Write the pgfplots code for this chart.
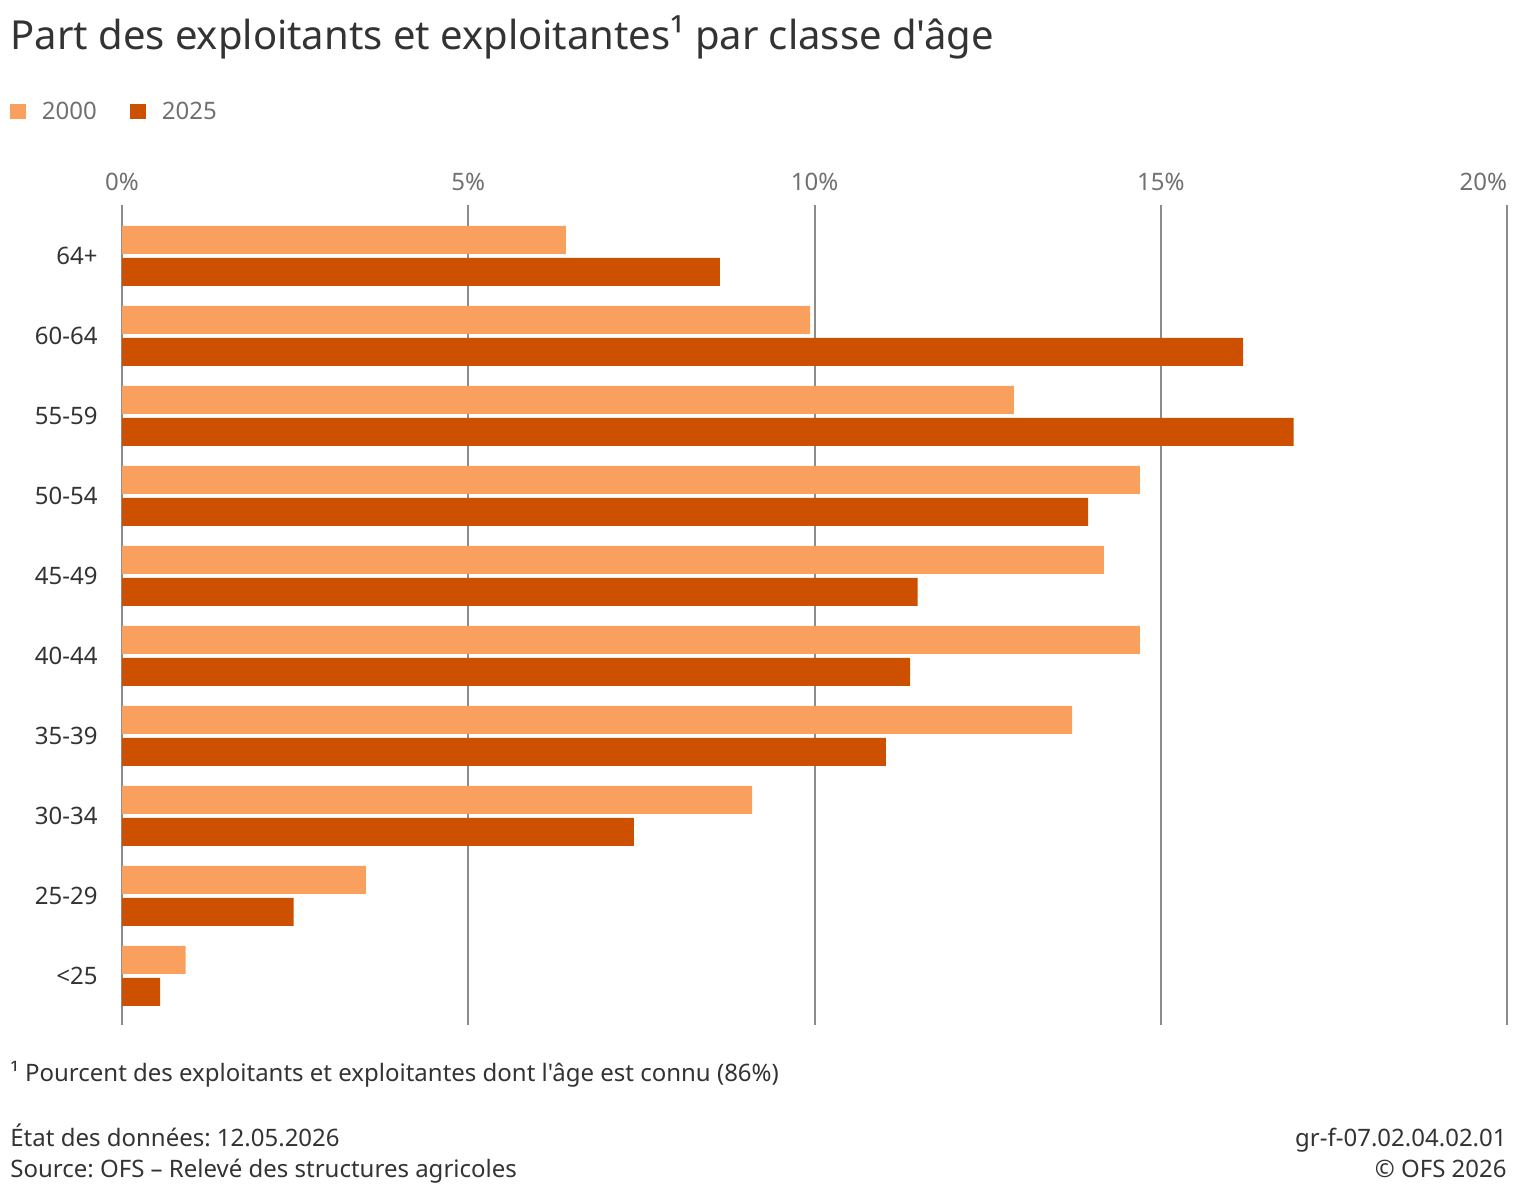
\documentclass[border=0pt]{standalone}
\usepackage{pgfplots}
\pgfplotsset{compat=1.18}
\usepackage{fontspec}
\setmainfont{Noto Sans}[Ligatures=TeXOff]
\definecolor{c2000}{HTML}{FAA05E}
\definecolor{c2025}{HTML}{CC5000}
\definecolor{gridc}{HTML}{8C8C8C}
\definecolor{tickc}{HTML}{707070}
\definecolor{textc}{HTML}{333333}
\frenchspacing
\begin{document}
\begin{tikzpicture}
\useasboundingbox (0,0) rectangle (760pt,599pt);
\begin{axis}[
  at={(61pt,86.5pt)}, anchor=south west,
  scale only axis, width=692.5pt, height=410pt,
  xmin=0, xmax=20, ymin=-0.6125, ymax=9.6375,
  xbar, bar width=14pt,
  xtick={0,5,10,15,20}, xticklabels={0\%,5\%,10\%,15\%,\makebox[0pt][r]{20\%}},
  xticklabel pos=upper,
  ytick={0,1,2,3,4,5,6,7,8,9},
  yticklabels={<25,25-29,30-34,35-39,40-44,45-49,50-54,55-59,60-64,64+},
  xmajorgrids, major grid style={gridc, line width=1pt},
  axis line style={draw=none}, major tick length=0pt,
  x tick label style={font=\fontsize{12}{14}\selectfont, text=tickc, inner sep=0pt, anchor=south, yshift=7pt},
  y tick label style={font=\fontsize{12}{14}\selectfont, text=textc, inner sep=0pt, anchor=east, xshift=-12pt},
  legend columns=-1,
  legend style={at={(axis description cs:0,1)}, anchor=west, xshift=-56pt, yshift=46.5pt,
    draw=none, fill=none, inner sep=0pt, outer sep=0pt,
    font=\fontsize{12}{14}\selectfont, text=tickc,
    nodes={inner sep=0pt},
    /tikz/every odd column/.style={column sep=8pt},
    /tikz/every even column/.style={column sep=16.5pt}},
  legend image code/.code={\draw[#1,draw=none] (0pt,-3.75pt) rectangle (8pt,3.75pt);},
]
\addplot[fill=c2000, draw=none, bar shift=8pt] coordinates {
  (0.92,0) (3.52,1) (9.10,2) (13.72,3) (14.70,4) (14.18,5) (14.70,6) (12.88,7) (9.935,8) (6.41,9)};
\addplot[fill=c2025, draw=none, bar shift=-8pt] coordinates {
  (0.55,0) (2.48,1) (7.39,2) (11.03,3) (11.38,4) (11.49,5) (13.95,6) (16.92,7) (16.19,8) (8.635,9)};
\legend{2000,2025}
\end{axis}
\node[anchor=base west, inner sep=0pt, text=textc, font=\fontsize{20}{24}\selectfont] at (5pt,574pt) {Part des exploitants et exploitantes¹ par classe d'âge};
\node[anchor=base west, inner sep=0pt, text=textc, font=\fontsize{12}{14}\selectfont] at (5pt,58pt) {¹ Pourcent des exploitants et exploitantes dont l'âge est connu (86\%)};
\node[anchor=base west, inner sep=0pt, text=textc, font=\fontsize{12}{14}\selectfont] at (5pt,25.5pt) {État des données: 12.05.2026};
\node[anchor=base west, inner sep=0pt, text=textc, font=\fontsize{12}{14}\selectfont] at (5pt,10pt) {Source: OFS – Relevé des structures agricoles};
\node[anchor=base east, inner sep=0pt, text=textc, font=\fontsize{12}{14}\selectfont] at (753.5pt,25.5pt) {gr-f-07.02.04.02.01};
\node[anchor=base east, inner sep=0pt, text=textc, font=\fontsize{12}{14}\selectfont] at (753.5pt,10pt) {© OFS 2026};
\end{tikzpicture}
\end{document}
